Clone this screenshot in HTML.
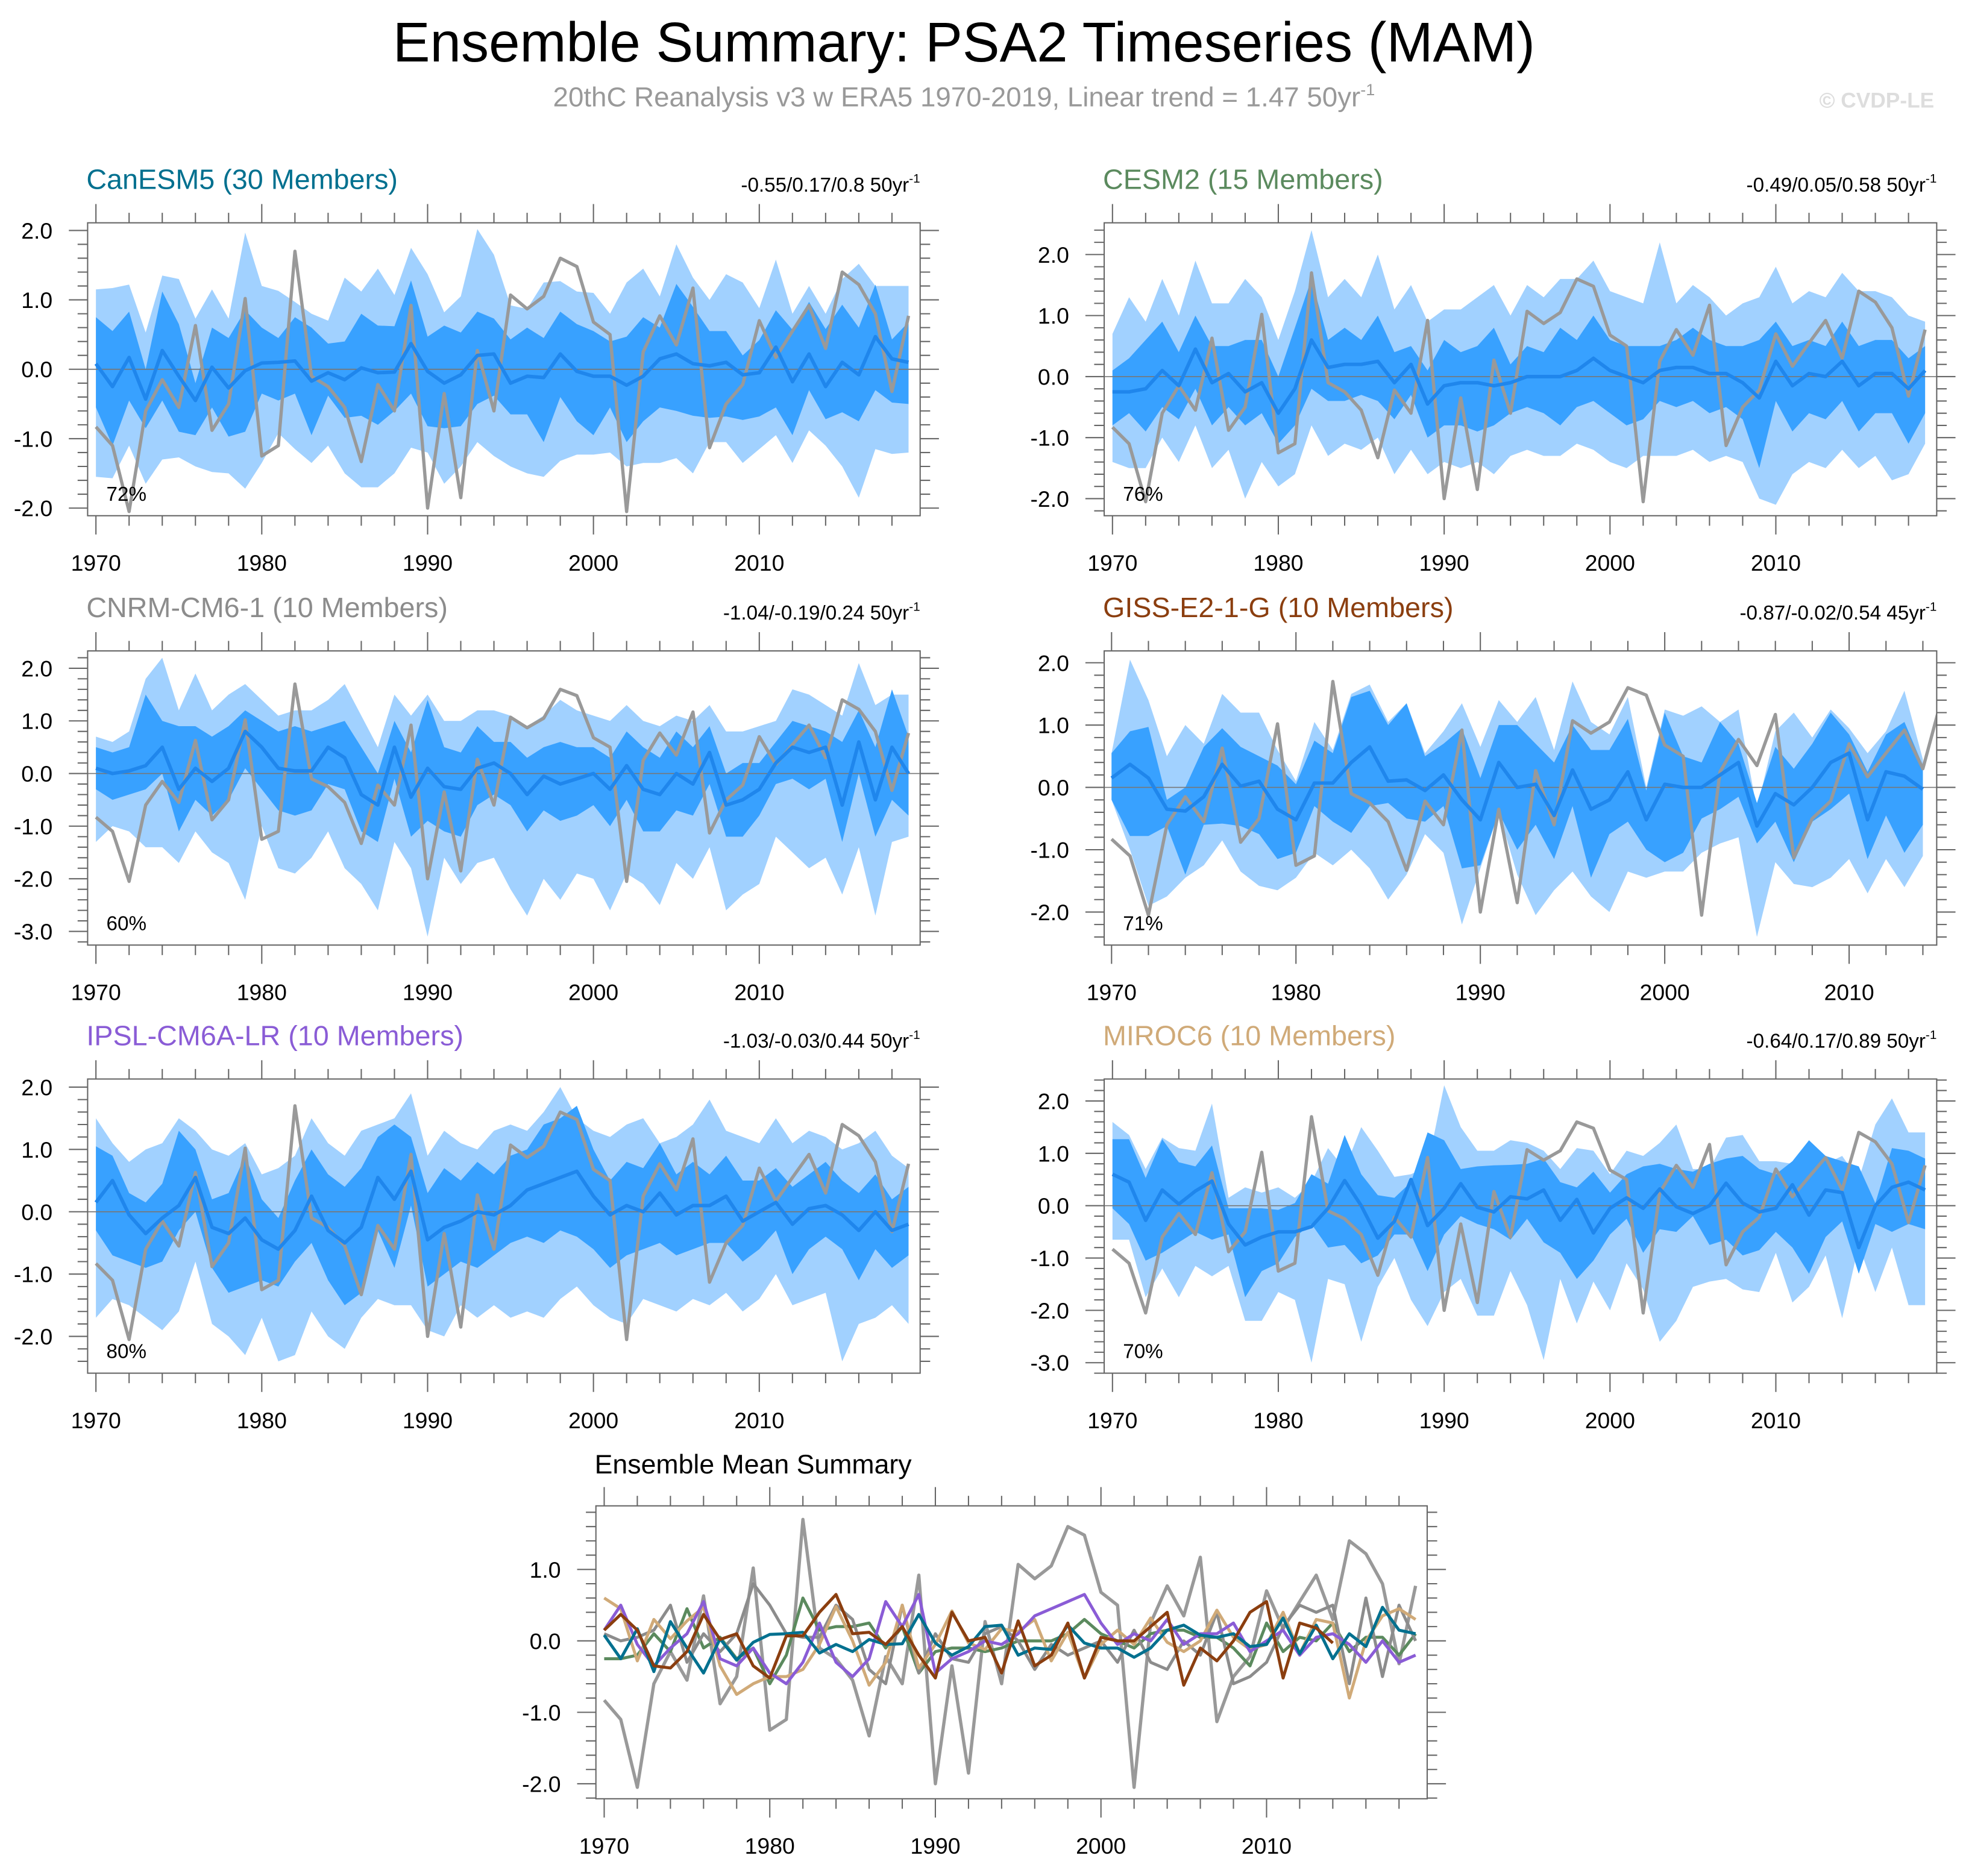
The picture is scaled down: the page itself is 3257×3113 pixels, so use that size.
<!DOCTYPE html>
<html><head><meta charset="utf-8"><style>
html,body{margin:0;padding:0;background:#fff}
svg{display:block;font-family:"Liberation Sans",sans-serif}
</style></head><body>
<svg id="chart" width="3257" height="3113" viewBox="0 0 1568 1498.7" preserveAspectRatio="none" xmlns="http://www.w3.org/2000/svg">
<text x="770" y="49" font-size="44.5" text-anchor="middle" fill="#000">Ensemble Summary: PSA2 Timeseries (MAM)</text>
<text x="770" y="85" font-size="22" text-anchor="middle" fill="#999">20thC Reanalysis v3 w ERA5 1970-2019, Linear trend = 1.47 50yr<tspan font-size="13" dy="-9">-1</tspan></text>
<text x="1545" y="86" font-size="17" font-weight="bold" text-anchor="end" fill="#ddd">© CVDP-LE</text>
<g id="panels"></g>
</svg>
<script>
const years = Array.from({length:50},(_,i)=>1970+i);
const obs = [-0.83,-1.1,-2.05,-0.6,-0.15,-0.55,0.63,-0.88,-0.5,1.02,-1.25,-1.1,1.7,-0.1,-0.25,-0.55,-1.33,-0.22,-0.6,0.92,-2.0,-0.35,-1.85,0.27,-0.6,1.07,0.87,1.05,1.6,1.48,0.68,0.5,-2.05,0.25,0.77,0.35,1.17,-1.13,-0.5,-0.22,0.7,0.17,0.55,0.92,0.3,1.4,1.22,0.8,-0.32,0.77];

const canMean = [0.08,-0.25,0.17,-0.43,0.27,-0.1,-0.45,0.03,-0.27,-0.02,0.09,0.1,0.12,-0.17,-0.05,-0.15,0.02,-0.05,-0.04,0.37,-0.03,-0.2,-0.08,0.2,0.22,-0.2,-0.1,-0.12,0.22,-0.03,-0.1,-0.1,-0.23,-0.1,0.15,0.22,0.08,0.05,0.1,-0.08,-0.05,0.32,-0.18,0.22,-0.25,0.1,-0.08,0.47,0.15,0.1];
const canInHi = [0.75,0.55,0.83,0.0,1.12,0.65,-0.2,0.6,0.45,0.85,0.6,0.45,0.75,0.6,0.37,0.4,0.8,0.63,0.62,1.28,0.47,0.63,0.53,0.83,0.73,0.43,0.6,0.45,0.83,0.65,0.55,0.4,0.47,0.75,0.6,1.23,0.9,0.55,0.55,0.2,0.42,0.85,0.57,0.97,0.58,0.93,0.6,1.22,0.43,0.68];
const canInLo = [-0.55,-1.1,-0.45,-0.85,-0.45,-0.9,-0.95,-0.55,-0.97,-0.9,-0.35,-0.45,-0.35,-0.95,-0.38,-0.7,-0.67,-0.8,-0.6,-0.35,-0.82,-0.85,-0.82,-0.5,-0.38,-0.65,-0.65,-1.05,-0.4,-0.75,-0.95,-0.55,-1.05,-0.75,-0.55,-0.6,-0.67,-0.7,-0.68,-0.73,-0.68,-0.55,-0.95,-0.3,-0.72,-0.62,-0.75,-0.3,-0.48,-0.5];
const canOutHi = [1.15,1.17,1.22,0.53,1.35,1.3,0.73,1.15,0.73,1.97,1.2,1.13,0.97,0.8,0.7,1.32,1.12,1.45,1.07,1.75,1.37,0.82,1.05,2.02,1.65,0.92,0.87,1.25,1.27,1.12,1.1,0.8,1.25,1.45,1.05,1.8,1.32,1.0,1.37,1.25,0.88,1.58,0.8,1.2,0.8,1.3,1.52,1.2,1.2,1.2];
const canOutLo = [-1.55,-1.57,-1.1,-1.65,-1.3,-1.27,-1.4,-1.48,-1.5,-1.72,-1.35,-0.92,-1.15,-1.35,-1.1,-1.5,-1.7,-1.7,-1.5,-1.13,-1.2,-1.65,-1.4,-1.05,-1.25,-1.4,-1.5,-1.55,-1.32,-1.23,-1.23,-1.2,-1.4,-1.35,-1.35,-1.28,-1.5,-1.05,-1.05,-1.35,-1.15,-0.95,-1.35,-0.88,-1.1,-1.4,-1.85,-1.15,-1.22,-1.2];

const cesMean = [-0.25,-0.25,-0.2,0.1,-0.15,0.45,-0.1,0.05,-0.25,-0.1,-0.6,-0.2,0.6,0.15,0.2,0.2,0.25,-0.1,0.2,-0.45,-0.15,-0.1,-0.1,-0.15,-0.1,0.0,0.0,0.0,0.1,0.3,0.1,0.0,-0.1,0.1,0.15,0.15,0.05,0.05,-0.1,-0.35,0.25,-0.15,0.05,0.0,0.25,-0.15,0.05,0.05,-0.2,0.1];
const cesInHi = [0.1,0.3,0.6,0.9,0.4,1.0,0.5,0.5,0.6,0.6,0.0,0.8,1.6,0.6,0.8,0.6,1.0,0.4,0.5,0.1,0.6,0.4,0.5,0.8,0.2,0.5,0.4,0.8,0.6,1.0,0.6,0.5,0.5,0.5,0.6,0.8,0.6,0.5,0.5,0.6,0.9,0.5,0.6,0.5,0.9,0.5,0.6,0.6,0.3,0.5];
const cesInLo = [-0.8,-0.6,-0.9,-0.5,-0.7,-0.2,-0.8,-0.5,-0.8,-0.6,-1.1,-0.8,-0.2,-0.4,-0.4,-0.3,-0.4,-0.7,-0.3,-1.0,-0.8,-0.8,-0.9,-0.8,-0.6,-0.5,-0.6,-0.8,-0.5,-0.4,-0.6,-0.8,-0.7,-0.4,-0.5,-0.4,-0.6,-0.5,-0.7,-1.5,-0.4,-0.9,-0.6,-0.7,-0.4,-0.9,-0.6,-0.6,-1.1,-0.6];
const cesOutHi = [0.7,1.3,0.9,1.6,1.0,1.9,1.2,1.2,1.6,1.3,0.6,1.4,2.4,1.3,1.6,1.3,2.0,1.1,1.5,0.9,1.1,1.1,1.3,1.5,1.0,1.5,1.3,1.6,1.6,1.9,1.4,1.3,1.2,2.2,1.2,1.5,1.3,1.0,1.2,1.3,1.8,1.2,1.4,1.3,1.7,1.4,1.4,1.3,1.0,0.9];
const cesOutLo = [-1.4,-1.5,-1.5,-1.0,-1.4,-0.8,-1.5,-1.2,-2.0,-1.4,-1.8,-1.6,-0.8,-1.3,-1.1,-1.2,-1.0,-1.6,-1.2,-1.6,-1.4,-1.5,-1.4,-1.6,-1.3,-1.2,-1.3,-1.3,-1.1,-1.2,-1.4,-1.5,-1.3,-1.3,-1.3,-1.2,-1.4,-1.3,-1.4,-2.0,-2.1,-1.6,-1.4,-1.5,-1.2,-1.5,-1.3,-1.7,-1.6,-1.1];

const cnrmMean = [0.1,0.0,0.05,0.15,0.5,-0.3,0.1,-0.15,0.1,0.8,0.5,0.1,0.05,0.05,0.5,0.3,-0.4,-0.6,0.5,-0.45,0.1,-0.25,-0.3,0.1,0.2,0.0,-0.4,-0.05,-0.2,-0.1,0.0,-0.3,0.15,-0.3,-0.4,0.0,-0.2,0.4,-0.6,-0.5,-0.3,0.2,0.5,0.4,0.5,-0.6,0.6,-0.5,0.5,0.0];
const cnrmInHi = [0.5,0.4,0.5,1.5,1.0,0.9,0.9,0.7,0.9,1.2,1.0,0.8,0.9,0.8,0.9,1.0,0.5,0.0,1.0,0.4,1.4,0.5,0.4,0.9,0.6,0.6,0.3,0.5,0.6,0.5,0.5,0.3,0.8,0.5,0.3,0.8,0.5,0.9,0.0,0.2,0.2,0.6,1.0,0.9,0.8,0.6,1.2,0.5,1.6,0.7];
const cnrmInLo = [-0.3,-0.5,-0.4,-0.3,0.0,-1.1,-0.5,-0.8,-0.5,0.1,-0.3,-0.7,-0.8,-0.7,-0.2,-0.3,-1.1,-1.3,-0.1,-1.2,-0.9,-1.1,-1.2,-0.6,-0.4,-0.6,-1.1,-0.7,-0.9,-0.8,-0.6,-1.0,-0.5,-1.1,-1.1,-0.7,-0.8,-0.2,-1.2,-1.2,-0.8,-0.2,-0.1,-0.3,-0.1,-1.3,0.0,-1.2,-0.5,-0.8];
const cnrmOutHi = [0.7,0.6,0.8,1.8,2.2,1.2,1.9,1.2,1.5,1.7,1.4,1.1,1.2,1.2,1.4,1.7,1.1,0.5,1.5,1.1,1.5,1.0,1.0,1.2,1.2,1.1,0.9,1.1,1.4,1.2,1.1,1.0,1.3,1.0,0.9,1.1,1.0,1.3,0.8,0.8,0.9,1.0,1.6,1.5,1.3,1.1,2.1,1.3,1.5,1.5];
const cnrmOutLo = [-1.3,-1.0,-1.1,-1.4,-1.4,-1.7,-1.1,-1.5,-1.7,-2.4,-1.0,-1.8,-1.9,-1.6,-1.1,-1.8,-2.1,-2.6,-1.3,-1.8,-3.1,-1.6,-2.1,-1.7,-1.6,-2.2,-2.7,-2.0,-2.4,-1.9,-2.0,-2.6,-1.9,-2.1,-2.5,-1.7,-2.0,-1.4,-2.6,-2.3,-2.1,-1.2,-1.5,-1.8,-1.6,-2.3,-1.4,-2.7,-1.3,-1.2];

const gissMean = [0.15,0.37,0.15,-0.35,-0.38,-0.15,0.37,0.02,0.1,-0.35,-0.52,0.07,0.07,0.4,0.65,0.1,0.12,-0.05,0.2,-0.2,-0.52,0.4,0.0,0.05,-0.45,0.28,-0.35,-0.2,0.25,-0.52,0.05,0.0,0.0,0.2,0.4,-0.62,-0.1,-0.28,0.0,0.4,0.55,-0.52,0.25,0.18,-0.03];
const gissInHi = [0.55,0.9,0.97,-0.2,0.0,0.65,0.95,0.65,0.5,0.35,0.05,0.75,0.55,1.45,1.55,1.0,1.35,0.5,0.7,0.95,0.15,1.0,1.0,0.7,0.4,1.0,0.6,0.6,1.1,-0.05,1.2,0.5,0.4,1.05,0.7,-0.25,0.65,0.3,0.7,1.2,0.85,0.25,0.85,1.05,0.35];
const gissInLo = [-0.2,-0.78,-0.78,-0.62,-1.4,-0.6,-0.58,-0.62,-0.75,-1.15,-1.05,-0.3,-0.55,-0.73,-0.3,-0.25,-0.5,-0.55,-0.3,-1.3,-1.25,-0.4,-1.0,-0.6,-1.15,-0.3,-1.45,-0.75,-0.55,-1.0,-1.2,-1.05,-0.5,-0.35,-0.15,-0.9,-0.55,-1.2,-0.55,-0.35,-0.1,-1.15,-0.45,-1.05,-0.6];
const gissOutHi = [0.55,2.05,1.4,0.5,1.0,0.7,1.5,1.2,1.2,0.6,0.1,1.05,0.6,1.5,1.65,1.05,1.35,0.55,0.9,1.35,0.65,1.4,1.05,1.45,0.6,1.7,1.05,0.85,1.45,0.0,1.25,1.15,1.3,1.05,1.25,-0.35,0.9,1.2,0.8,1.25,0.95,0.55,0.9,1.55,0.45];
const gissOutLo = [-0.2,-1.0,-1.9,-1.75,-1.45,-1.25,-0.85,-1.35,-1.58,-1.65,-1.45,-1.05,-1.25,-1.0,-1.3,-1.8,-1.4,-0.75,-1.05,-2.2,-1.3,-0.4,-1.4,-2.05,-1.65,-1.35,-1.75,-2.0,-1.35,-1.45,-1.35,-1.35,-1.05,-0.9,-0.8,-2.4,-1.2,-1.55,-1.6,-1.45,-1.15,-1.7,-1.15,-1.6,-1.1];

const ipslMean = [0.15,0.5,-0.05,-0.35,-0.1,0.1,0.55,-0.25,-0.35,-0.1,-0.45,-0.6,-0.3,0.25,-0.3,-0.5,-0.25,0.55,0.2,0.65,-0.45,-0.25,-0.15,0.0,-0.05,0.1,0.35,0.45,0.55,0.65,0.25,-0.05,0.1,0.0,0.3,-0.05,0.1,0.1,0.25,-0.15,0.0,0.15,-0.2,0.05,0.1,-0.05,-0.3,0.0,-0.3,-0.2];
const ipslInHi = [1.05,0.9,0.3,0.15,0.45,1.3,1.0,0.2,0.3,0.9,0.2,-0.1,0.5,1.0,0.6,0.4,0.7,1.2,1.4,1.2,0.3,0.7,0.5,0.8,0.6,0.9,1.0,1.4,1.5,1.7,1.0,0.5,0.8,0.7,1.1,0.6,0.8,0.6,0.9,0.5,0.5,0.7,0.4,0.6,0.8,0.5,0.3,0.6,0.2,0.4];
const ipslInLo = [-0.3,-0.7,-0.8,-0.9,-0.8,-0.3,0.0,-0.9,-1.3,-1.2,-1.1,-1.2,-0.8,-0.5,-1.1,-1.5,-1.3,-0.3,-0.9,0.1,-1.2,-1.0,-0.8,-0.9,-0.7,-0.5,-0.4,-0.5,-0.3,-0.4,-0.6,-0.9,-0.7,-0.6,-0.5,-0.7,-0.6,-0.5,-0.5,-0.8,-0.6,-0.3,-1.0,-0.6,-0.4,-0.6,-1.1,-0.6,-0.9,-0.7];
const ipslOutHi = [1.5,1.1,0.8,1.0,1.1,1.5,1.3,1.0,0.9,1.1,0.6,0.7,0.9,1.5,1.1,0.9,1.3,1.4,1.5,1.9,0.9,1.3,1.1,1.0,1.3,1.4,1.3,1.6,2.0,1.5,1.3,1.2,1.4,1.5,1.1,1.2,1.4,1.8,1.3,1.2,1.1,1.5,1.1,1.3,1.2,1.0,1.1,1.3,0.9,0.7];
const ipslOutLo = [-1.7,-1.4,-1.5,-1.7,-1.9,-1.6,-0.8,-1.8,-2.0,-2.3,-1.7,-2.4,-2.3,-1.6,-2.0,-2.2,-1.7,-1.4,-1.5,-1.5,-1.9,-2.0,-1.5,-1.7,-1.5,-1.7,-1.6,-1.7,-1.4,-1.2,-1.5,-1.7,-1.8,-1.4,-1.5,-1.6,-1.4,-1.5,-1.3,-1.6,-1.4,-1.0,-1.5,-1.4,-1.3,-2.4,-1.8,-1.7,-1.5,-1.8];

const mirocMean = [0.6,0.45,-0.28,0.3,0.03,0.28,0.47,-0.35,-0.75,-0.6,-0.5,-0.5,-0.4,-0.05,0.48,0.0,-0.62,-0.3,0.5,-0.38,-0.05,0.42,-0.03,-0.12,0.17,0.13,0.3,-0.28,0.12,-0.52,-0.05,0.15,-0.05,0.32,-0.02,-0.15,0.0,0.43,0.05,-0.12,-0.05,0.4,-0.18,0.3,0.25,-0.8,0.0,0.35,0.45,0.3];
const mirocInHi = [1.27,1.27,0.53,1.27,0.83,0.75,1.15,-0.05,-0.05,-0.05,-0.08,0.05,0.6,0.42,1.35,0.6,0.2,0.15,0.45,1.4,1.25,0.7,0.75,0.77,0.78,0.8,0.9,0.45,0.35,0.65,0.25,0.6,0.75,0.8,0.7,0.65,0.8,0.9,0.95,0.7,0.6,0.85,1.25,0.95,0.85,0.75,0.05,1.1,1.05,0.9];
const mirocInLo = [-0.05,-0.35,-1.05,-0.9,-0.7,-0.5,-0.65,-0.55,-1.75,-1.25,-1.1,-0.6,-0.35,-0.8,-0.75,-1.1,-0.95,-0.55,-0.55,-1.25,-0.55,-0.2,-0.35,-0.45,-0.65,-0.25,-0.7,-0.9,-1.4,-1.05,-0.55,-0.25,-0.9,-0.45,-0.5,-0.2,-0.75,-0.65,-0.95,-0.85,-0.5,-0.8,-1.3,-0.6,-0.3,-1.3,-0.35,-0.5,-0.35,-0.45];
const mirocOutHi = [1.6,1.35,0.7,1.3,1.1,1.05,1.95,0.15,0.35,0.25,0.35,0.15,0.45,1.1,0.7,1.5,1.05,0.55,0.6,0.75,2.3,1.5,1.05,1.05,1.25,1.2,1.05,0.7,1.1,1.05,0.6,1.05,0.95,1.2,1.55,0.7,0.7,1.3,1.35,0.85,0.85,0.8,1.15,0.8,0.95,0.5,1.55,2.05,1.4,1.4];
const mirocOutLo = [-0.65,-0.65,-1.75,-1.2,-1.75,-1.15,-1.35,-1.15,-2.2,-2.2,-1.65,-1.8,-3.0,-1.4,-1.5,-2.6,-1.55,-1.0,-1.8,-2.3,-1.65,-1.4,-2.1,-2.1,-1.25,-1.9,-2.95,-1.4,-2.25,-1.45,-2.0,-1.1,-1.6,-2.6,-2.2,-1.55,-1.45,-1.4,-1.6,-1.65,-0.9,-1.85,-1.55,-0.95,-2.15,-0.75,-1.65,-0.8,-1.9,-1.9];

const xTickLabels = ["1970","1980","1990","2000","2010"];
const pctLabels = ["72%","76%","60%","71%","80%","70%"];
const trendLabels = ["-0.55/0.17/0.8 50yr","-0.49/0.05/0.58 50yr","-1.04/-0.19/0.24 50yr","-0.87/-0.02/0.54 45yr","-1.03/-0.03/0.44 50yr","-0.64/0.17/0.89 50yr"];
const modelNames = ["CanESM5 (30 Members)","CESM2 (15 Members)","CNRM-CM6-1 (10 Members)","GISS-E2-1-G (10 Members)","IPSL-CM6A-LR (10 Members)","MIROC6 (10 Members)"];
const modelColors = ["#00708f","#5b8a5e","#8c8c8c","#8b3e0f","#8a5cd6","#d0aa78"];

const NS="http://www.w3.org/2000/svg";
const root=document.getElementById('panels');
function mk(tag,attrs,parent){const e=document.createElementNS(NS,tag);for(const k in attrs)e.setAttribute(k,attrs[k]);(parent||root).appendChild(e);return e;}

const panels=[
 {id:'canesm5',x0:70,x1:735,y0:178,y1:412,ymin:-2.11,ymax:2.11,xmin:1969.5,xmax:2019.7,yt:[-2,-1,0,1,2],d:[canMean,canInHi,canInLo,canOutHi,canOutLo]},
 {id:'cesm2',x0:882,x1:1547,y0:178,y1:412,ymin:-2.28,ymax:2.52,xmin:1969.5,xmax:2019.7,yt:[-2,-1,0,1,2],d:[cesMean,cesInHi,cesInLo,cesOutHi,cesOutLo]},
 {id:'cnrm',x0:70,x1:735,y0:520,y1:755,ymin:-3.26,ymax:2.33,xmin:1969.5,xmax:2019.7,yt:[-3,-2,-1,0,1,2],d:[cnrmMean,cnrmInHi,cnrmInLo,cnrmOutHi,cnrmOutLo]},
 {id:'giss',x0:882,x1:1547,y0:520,y1:755,ymin:-2.53,ymax:2.19,xmin:1969.6,xmax:2014.75,yt:[-2,-1,0,1,2],d:[gissMean,gissInHi,gissInLo,gissOutHi,gissOutLo]},
 {id:'ipsl',x0:70,x1:735,y0:862,y1:1097,ymin:-2.59,ymax:2.13,xmin:1969.5,xmax:2019.7,yt:[-2,-1,0,1,2],d:[ipslMean,ipslInHi,ipslInLo,ipslOutHi,ipslOutLo]},
 {id:'miroc',x0:882,x1:1547,y0:862,y1:1097,ymin:-3.2,ymax:2.42,xmin:1969.5,xmax:2019.7,yt:[-3,-2,-1,0,1,2],d:[mirocMean,mirocInHi,mirocInLo,mirocOutHi,mirocOutLo]}
];

function axes(p){
 const X=v=>p.x0+(v-p.xmin)/(p.xmax-p.xmin)*(p.x1-p.x0);
 const Y=v=>p.y1-(v-p.ymin)/(p.ymax-p.ymin)*(p.y1-p.y0);
 return [X,Y];
}
function drawFrame(p,g,X,Y){
 mk('rect',{x:p.x0,y:p.y0,width:p.x1-p.x0,height:p.y1-p.y0,fill:'none',stroke:'#666','stroke-width':1},g);
 for(let yr=1970;yr<=p.xmax;yr+=2){
  const major=(yr%10===0), L=major?15:8, x=X(yr);
  mk('line',{x1:x,x2:x,y1:p.y0,y2:p.y0-L,stroke:'#666','stroke-width':1},g);
  mk('line',{x1:x,x2:x,y1:p.y1,y2:p.y1+L,stroke:'#666','stroke-width':1},g);
 }
 xTickLabels.forEach(s=>{const v=+s;if(v>p.xmax)return;const t=mk('text',{x:X(v),y:p.y1+44,'font-size':18,'text-anchor':'middle',fill:'#000'},g);t.textContent=s;});
 const lo=Math.ceil(p.ymin*5-1e-6),hi=Math.floor(p.ymax*5+1e-6);
 for(let k=lo;k<=hi;k++){
  const v=k/5,y=Y(v),major=(k%5===0),L=major?15:8;
  mk('line',{x1:p.x0,x2:p.x0-L,y1:y,y2:y,stroke:'#666','stroke-width':1},g);
  mk('line',{x1:p.x1,x2:p.x1+L,y1:y,y2:y,stroke:'#666','stroke-width':1},g);
 }
 p.yt.forEach(v=>{const t=mk('text',{x:p.x0-28,y:Y(v)+6.5,'font-size':18,'text-anchor':'end',fill:'#000'},g);t.textContent=v.toFixed(1);});
}
function line(arr,X,Y,x0yr,attrs,g){
 const pts=arr.map((v,i)=>X(x0yr+i).toFixed(2)+','+Y(v).toFixed(2)).join(' ');
 return mk('polyline',Object.assign({points:pts,fill:'none','stroke-linejoin':'round'},attrs),g);
}
function band(hi,lo,X,Y,fill,g){
 const n=Math.min(hi.length,lo.length);let pts=[];
 for(let i=0;i<n;i++)pts.push(X(1970+i).toFixed(2)+','+Y(hi[i]).toFixed(2));
 for(let i=n-1;i>=0;i--)pts.push(X(1970+i).toFixed(2)+','+Y(lo[i]).toFixed(2));
 return mk('polygon',{points:pts.join(' '),fill:fill},g);
}

panels.forEach((p,idx)=>{
 const g=mk('g',{});
 
 
 const [X,Y]=axes(p);
 const cid='clip-'+p.id;
 const cp=mk('clipPath',{id:cid},g);mk('rect',{x:p.x0,y:p.y0,width:p.x1-p.x0,height:p.y1-p.y0},cp);
 const pg=mk('g',{'clip-path':'url(#'+cid+')'},g);
 const ob=band(p.d[3],p.d[4],X,Y,'#a1d1ff',pg);
 
 
 const ib=band(p.d[1],p.d[2],X,Y,'#38a1ff',pg);
 
 
 mk('line',{x1:p.x0,x2:p.x1,y1:Y(0),y2:Y(0),stroke:'#777','stroke-width':0.8},pg);
 const ol=line(obs,X,Y,1970,{stroke:'#999','stroke-width':2.6},pg);
 
 
 const ml=line(p.d[0],X,Y,1970,{stroke:'#1f86ec','stroke-width':2.8},pg);
 
 
 drawFrame(p,g,X,Y);
 const tt=mk('text',{x:p.x0-1,y:p.y0-27,'font-size':22.5,fill:modelColors[idx]},g);tt.textContent=modelNames[idx];
 
 
 const tr=mk('text',{x:p.x1,y:p.y0-25,'font-size':16,'text-anchor':'end',fill:'#000'},g);
 tr.textContent=trendLabels[idx];
 const sp=mk('tspan',{'font-size':10,dy:-7},tr);sp.textContent='-1';
 
 
 const pc=mk('text',{x:p.x0+15,y:p.y1-12,'font-size':16,fill:'#000'},g);pc.textContent=pctLabels[idx];
 
 
});

// Ensemble mean summary
const sp={id:'summary',x0:476,x1:1140,y0:1203,y1:1437,ymin:-2.21,ymax:1.89,xmin:1969.5,xmax:2019.7,yt:[-2,-1,0,1]};
const sg=mk('g',{});


const [SX,SY]=axes(sp);
const st=mk('text',{x:475,y:1177,'font-size':21.5,fill:'#000'},sg);st.textContent='Ensemble Mean Summary';


const sol=line(obs,SX,SY,1970,{stroke:'#999','stroke-width':2.6},sg);


[cesMean,cnrmMean,mirocMean,ipslMean,canMean,gissMean].forEach((arr,k)=>{
 const ci=[1,2,5,4,0,3][k];
 const l=line(arr,SX,SY,1970,{stroke:modelColors[ci],'stroke-width':2.4},sg);
 
 
});
drawFrame(sp,sg,SX,SY);
</script>
</body></html>
